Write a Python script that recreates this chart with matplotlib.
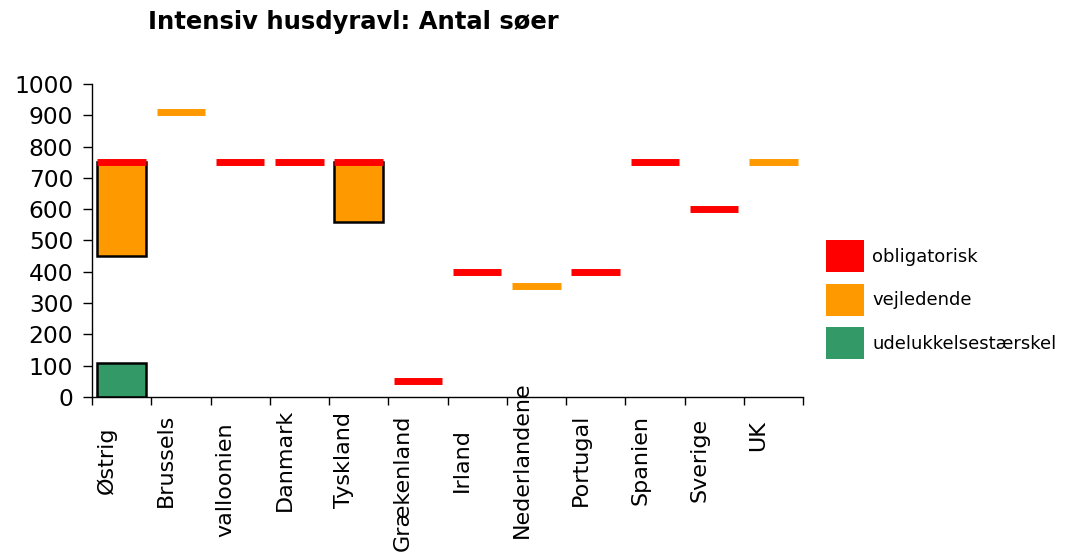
import matplotlib
matplotlib.use('Agg')
import matplotlib.pyplot as plt
from matplotlib.patches import Patch
import numpy as np

# data
lande = ['Østrig', 'Brussels', 'valloonien', 'Danmark', 'Tyskland', 'Grækenland',
         'Irland', 'Nederlandene', 'Portugal', 'Spanien', 'Sverige', 'UK']

# obligatorisk level (red dash), None where absent
obligatorisk = [750, None, 750, 750, 750, 50, 400, None, 400, 750, 600, None]
# vejledende as a single level (orange dash)
vejledende_niveau = [None, 910, None, None, None, None, None, 355, None, None, None, 750]
# vejledende as a range (orange box): (low, high)
vejledende_lav = [450, None, None, None, 560, None, None, None, None, None, None, None]
vejledende_hoj = [750, None, None, None, 750, None, None, None, None, None, None, None]
# udelukkelsestaerskel (green box)
udelukkelse = [110, None, None, None, None, None, None, None, None, None, None, None]

rod = '#FF0000'
orange = '#FF9900'
gron = '#339966'

fig = plt.figure(figsize=(10.71, 5.53), dpi=100)
ax = fig.add_axes([0.0859, 0.2821, 0.6639, 0.5660])

x = np.arange(len(lande)) + 0.5
w = 0.82

for i, xi in enumerate(x):
    if udelukkelse[i] is not None:
        ax.bar(xi, udelukkelse[i], width=w, color=gron, edgecolor='black', linewidth=1.8, zorder=2)
    if vejledende_lav[i] is not None:
        ax.bar(xi, vejledende_hoj[i] - vejledende_lav[i], bottom=vejledende_lav[i], width=w,
               color=orange, edgecolor='black', linewidth=1.8, zorder=2)
    if vejledende_niveau[i] is not None:
        ax.hlines(vejledende_niveau[i], xi - w / 2, xi + w / 2, color=orange, lw=5,
                  capstyle='butt', zorder=3)
    if obligatorisk[i] is not None:
        ax.hlines(obligatorisk[i], xi - w / 2, xi + w / 2, color=rod, lw=5,
                  capstyle='butt', zorder=4)

ax.set_xlim(0, len(lande))
ax.set_ylim(0, 1000)
ax.set_yticks(np.arange(0, 1001, 100))
ax.set_xticks(np.arange(0, len(lande) + 1))
ax.set_xticklabels([])
ax.tick_params(axis='y', direction='out', length=6.5, width=1, pad=7, labelsize=16.8)
ax.tick_params(axis='x', direction='out', length=6, width=1)
for s in ['top', 'right']:
    ax.spines[s].set_visible(False)
for s in ['left', 'bottom']:
    ax.spines[s].set_linewidth(1)

# category labels, rotated, roughly centred below each slot
nudge = {'valloonien': -20, 'Grækenland': -23, 'UK': 24}
for i, navn in enumerate(lande):
    yc = -63 + nudge.get(navn, 0)
    ax.annotate(navn, xy=(i + 0.25, 0), xycoords=('data', 'axes fraction'),
                xytext=(0, yc * 0.72), textcoords='offset points',
                rotation=90, ha='center', va='center', fontsize=16)

fig.text(0.1382, 0.9476, 'Intensiv husdyravl: Antal søer', fontsize=17.5,
         fontweight='bold', ha='left', va='baseline')

handles = [Patch(facecolor=rod), Patch(facecolor=orange), Patch(facecolor=gron)]
fig.legend(handles, ['obligatorisk', 'vejledende', 'udelukkelsestærskel'],
           loc='upper left', bbox_to_anchor=(826 / 1071, 1 - 240 / 553),
           frameon=False, fontsize=13, handlelength=2.1, handleheight=2.36,
           handletextpad=0.45, labelspacing=0.64, borderpad=0, borderaxespad=0)

fig.savefig('out.png', dpi=100)
